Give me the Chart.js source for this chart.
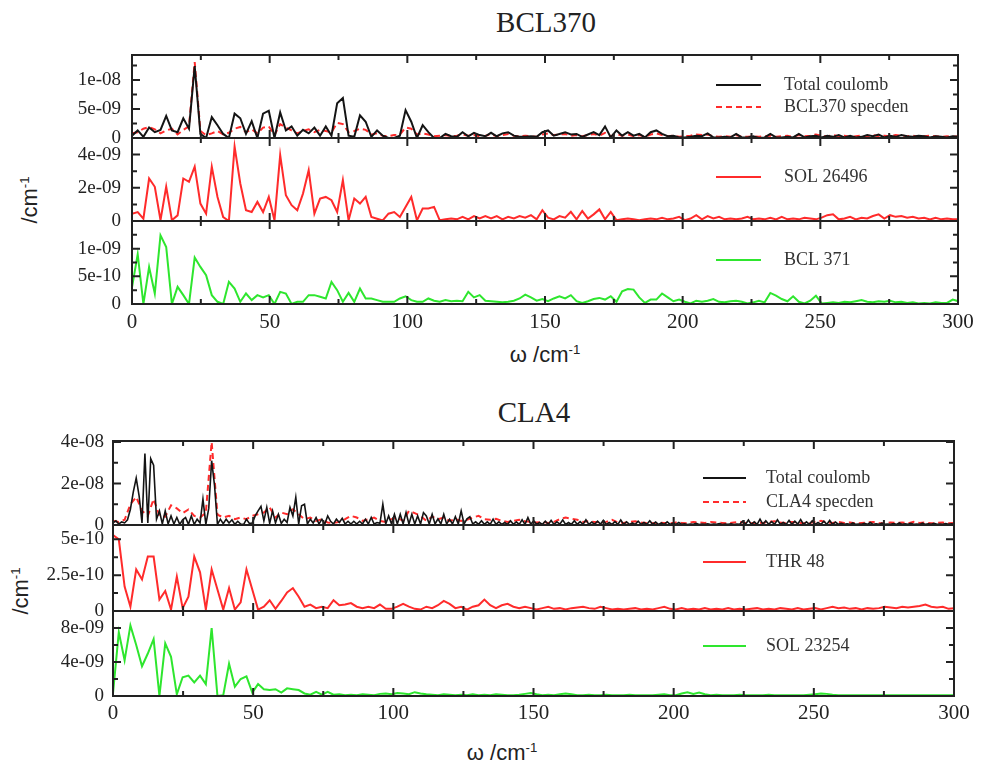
<!DOCTYPE html>
<html>
<head>
<meta charset="utf-8">
<script src="https://cdn.jsdelivr.net/npm/chart.js@4.4.1/dist/chart.umd.min.js"></script>
<style>
  body { margin: 0; background: #fff; }
  #page { position: relative; width: 982px; height: 767px; overflow: hidden; }
  canvas { position: absolute; left: 0; }
  .lbl { position: absolute; transform: translate(-50%, -50%); white-space: nowrap; color: #222; line-height: 1; }
  .title { font: 29px "Liberation Serif", serif; }
  .axis { font: 22px "Liberation Sans", sans-serif; }
  .axis sup { font-size: 60%; }
  .rot { transform: translate(-50%, -50%) rotate(-90deg); }
</style>
</head>
<body>
<div id="page">
  <div class="lbl title" style="left:546px;top:22px">BCL370</div>
  <div class="lbl axis" style="left:545px;top:355px">ω /cm<sup>-1</sup></div>
  <div class="lbl axis rot" style="left:30px;top:200px">/cm<sup>-1</sup></div>
  <div class="lbl title" style="left:534px;top:412px">CLA4</div>
  <div class="lbl axis" style="left:502px;top:753px">ω /cm<sup>-1</sup></div>
  <div class="lbl axis rot" style="left:21px;top:591px">/cm<sup>-1</sup></div>
</div>
<script>
// spectral density grid spacing in cm^-1
const dOmega = 2.07;
// the CLA4 total coulomb curve is sampled twice as densely
const dOmegaFine = 1.035;

const xMajor = [0, 50, 100, 150, 200, 250, 300];
const xMinor = [25, 75, 125, 175, 225, 275];

// ---- BCL370 ----
// top panel, units of 1e-9
const bcl370Total = [
  0.4, 1.3, 0.2, 1.8, 1.0, 1.4, 3.8, 1.3, 1.0, 3.4,
  1.6, 12.4, 0.7, 0.0, 3.6, 2.2, 0.7, 0.0, 4.2, 3.4,
  0.7, 2.9, 0.0, 4.2, 4.7, 0.0, 4.4, 1.3, 2.0, 0.4,
  1.4, 0.8, 1.8, 0.4, 2.0, 0.4, 6.0, 6.9, 0.4, 0.2,
  3.9, 2.8, 0.2, 1.3, 0.4, 0.0, 0.0, 0.4, 4.8, 2.8,
  0.0, 2.2, 1.0, 0.0, 0.0,
  0.7, 0.3, 0.2, 1.0, 0.3, 0.9, 0.5, 0.3, 0.9, 0.3,
  0.8, 1.0, 0.4, 0.2, 0.2, 0.3, 0.2, 1.0, 1.3, 0.4,
  0.7, 1.0, 0.6, 0.7, 0.2, 0.6, 1.0, 0.5, 2.0, 0.1,
  1.3, 0.4, 1.0, 0.4, 0.7, 0.1, 1.0, 1.3, 0.7, 0.3,
  0.4, 0.1, 0.1, 0.2, 0.4, 0.3, 0.8, 0.1, 0.1, 0.2,
  0.1, 0.7, 0.1, 0.1, 0.3, 0.0, 0.1, 0.7, 0.1, 0.1,
  0.2, 0.1, 0.7, 0.1, 0.3, 0.4, 0.1, 0.4, 0.2, 0.5,
  0.1, 0.4, 0.1, 0.2, 0.5, 0.3, 0.6, 0.1, 0.4, 0.2,
  0.5, 0.3, 0.2, 0.4, 0.3, 0.1, 0.3, 0.2, 0.1, 0.3,
  0.2
];
const bcl370Specden = [
  0.8, 1.0, 1.6, 1.9, 1.5, 0.8, 1.3, 1.6, 0.6, 1.4,
  2.0, 13.1, 1.2, 0.5, 0.8, 1.2, 0.6, 0.9, 1.6, 1.9,
  1.0, 1.5, 0.8, 1.8, 2.0, 0.5, 2.4, 1.8, 1.3, 0.8,
  1.2, 1.5, 1.0, 1.4, 1.2, 1.0, 2.6, 2.4, 1.0, 1.2,
  1.6, 1.4, 0.6, 0.8, 0.4, 0.3, 0.5, 0.6, 1.8, 1.6,
  0.6, 0.8, 0.6, 0.3, 0.4,
  0.5, 0.3, 0.4, 0.6, 0.4, 0.5, 0.3, 0.4, 0.6, 0.3,
  0.5, 0.7, 0.4, 0.3, 0.4, 0.3, 0.2, 0.6, 0.8, 0.5,
  0.6, 0.7, 0.4, 0.5, 0.3, 0.5, 0.7, 0.4, 0.9, 0.3,
  0.7, 0.4, 0.6, 0.3, 0.5, 0.2, 0.6, 0.8, 0.5, 0.3,
  0.4, 0.2, 0.3, 0.4, 0.6, 0.5, 0.6, 0.3, 0.2, 0.3,
  0.2, 0.5, 0.2, 0.2, 0.3, 0.2, 0.3, 0.4, 0.2, 0.3,
  0.4, 0.2, 0.5, 0.3, 0.4, 0.6, 0.4, 0.3, 0.5, 0.3,
  0.4, 0.2, 0.3, 0.4, 0.3, 0.5, 0.3, 0.4, 0.3, 0.5,
  0.4, 0.3, 0.4, 0.2, 0.3, 0.4, 0.3, 0.2, 0.3, 0.2,
  0.3
];
// middle panel, units of 1e-9
const sol26496 = [
  0.44, 0.54, 0.14, 2.56, 2.06, 0.05, 2.06, 0.05, 0.34, 2.56,
  2.36, 3.27, 1.05, 0.44, 3.27, 1.45, 0.24, 0.0, 4.48, 2.26,
  0.65, 0.54, 1.15, 0.54, 1.45, 0.04, 3.97, 1.55, 0.95, 0.65,
  1.65, 3.06, 0.44, 1.35, 1.45, 1.25, 0.54, 2.46, 0.04, 1.35,
  1.05, 1.45, 0.24, 0.14, 0.04, 0.44, 0.54, 0.24, 0.85, 1.45,
  0.04, 0.75, 0.75, 0.85, 0.04,
  0.1, 0.15, 0.1, 0.25, 0.1, 0.3, 0.15, 0.3,
  0.15, 0.3, 0.1, 0.25, 0.15, 0.3, 0.2, 0.35, 0.1,
  0.65, 0.2, 0.1, 0.3, 0.2, 0.55, 0.1, 0.6, 0.15, 0.4, 0.7, 0.1, 0.55, 0.05,
  0.1, 0.15, 0.1, 0.05, 0.1, 0.15, 0.1, 0.2, 0.1, 0.15, 0.25, 0.05,
  0.15, 0.35, 0.1, 0.3, 0.15, 0.25, 0.1, 0.15, 0.1, 0.15, 0.25, 0.1, 0.15,
  0.1, 0.2, 0.1, 0.25, 0.1, 0.15, 0.1, 0.2, 0.15, 0.1,
  0.2, 0.35, 0.4, 0.1, 0.15, 0.25, 0.1, 0.2, 0.15, 0.3,
  0.4, 0.15, 0.35, 0.25, 0.3, 0.2, 0.25, 0.15, 0.2, 0.1,
  0.2, 0.1, 0.15, 0.1, 0.1
];
// bottom panel, units of 1e-10
const bcl371 = [
  3.0, 9.0, 0.0, 6.7, 1.9, 12.4, 10.3, 0.0, 3.1, 1.6,
  0.0, 8.4, 6.7, 5.2, 1.6, 0.4, 0.0, 4.0, 2.8, 0.4,
  1.9, 0.7, 1.6, 1.2, 1.6, 0.0, 2.2, 1.9, 0.0, 0.4,
  0.4, 1.6, 1.6, 1.3, 1.0, 4.0, 2.5, 0.4, 2.0, 0.4,
  2.8, 1.0, 1.0, 0.7, 0.4, 0.4, 0.4, 1.0, 1.4, 0.7,
  0.4, 0.4, 1.0, 0.6, 0.4,
  0.7, 0.5, 0.6, 0.5,
  2.2, 1.2, 1.6, 0.6, 0.5, 0.4, 0.3, 0.4, 0.6, 1.0,
  1.7, 1.2, 0.6, 0.9, 0.5, 1.0, 1.4, 1.0, 1.6, 0.5,
  0.2, 0.5, 0.9, 1.1, 0.8, 1.4, 0.4, 2.3, 2.7, 2.6,
  1.2, 0.2, 0.8, 0.8, 1.9, 1.2, 0.5, 0.8, 0.4, 0.1,
  0.6, 0.4, 0.6, 0.9, 0.4, 0.3, 0.5, 0.6, 0.4, 0.1,
  0.3, 0.6, 0.3, 2.0, 1.5, 0.9, 0.5, 1.4, 0.4, 0.1,
  0.6, 1.5, 0.1, 0.2, 0.3, 0.2, 0.4, 0.3, 0.5, 0.7,
  0.4, 0.3, 0.5, 0.4, 0.6, 0.3, 0.4, 0.2, 0.3, 0.1,
  0.2, 0.1, 0.3, 0.2, 0.2, 0.8, 0.5
];

// ---- CLA4 ----
// top panel, units of 1e-9 (total coulomb on the fine grid)
const cla4Total = [
  1.0, 2.0, 0.5, 1.5, 1.0, 2.5, 7.6, 16, 22.6, 14,
  1.0, 34.5, 1.0, 32, 28.8, 2.8, 6.8, 0.5, 6.8, 0.5,
  4.4, 0.5, 3.6, 0.3, 2.5, 3.6, 0.3, 4.4, 0.3, 2.8,
  1.0, 12.5, 0.3, 8, 31, 19, 0.3, 2.8, 0.6, 2.8,
  1.0, 2.5, 0.3, 1.8, 0.5, 0.2, 2.8, 0.8, 1.0, 4.4,
  6.8, 9.0, 2.0, 8.5, 0.8, 6.8, 1.0, 5.2, 0.8, 2.8,
  1.2, 8.5, 4.4, 13.3, 0.5, 9.3, 10, 0.5, 2.8, 1.0,
  3.6, 0.5, 2.8, 0.5, 4.4, 1.8, 0.5, 2.8, 1.2, 3.2,
  0.5, 1.8, 0.5, 1.8, 0.5, 1.8, 0.5, 2.8, 0.5, 3.6,
  0.5, 1.2, 0.8, 10, 0.5, 4.4, 0.5, 5.2, 0.5, 5.2,
  0.5, 6.0, 0.5, 5.2, 0.5, 4.4, 0.5, 6.0,
  4.4, 0.5, 5.2, 0.5, 3.0, 0.5, 5.2, 0.5, 2.8, 0.5, 4.0, 0.5, 6.8, 0.5, 3.0, 4.0, 0.5,
  1.5, 0.3, 2.0, 0.3, 1.5, 0.3, 2.8, 0.3, 1.5, 0.3, 1.2, 0.3,
  2.0, 0.3, 1.5, 0.3, 2.5, 0.3, 3.6, 0.3, 2.0, 0.3, 1.2, 0.3,
  1.8, 0.3, 2.2, 0.3, 1.5, 0.4, 2.4, 0.3, 1.2, 0.3,
  2.0, 0.3, 1.6, 0.3, 2.5, 0.3, 1.4, 0.3, 1.8, 0.4,
  2.2, 0.3, 1.2, 0.3, 1.6, 0.3, 2.4, 0.3, 1.5, 0.3,
  1.0, 0.3, 1.8, 0.3, 1.2, 0.3, 2.0, 0.3, 1.4, 0.3,
  1.0, 0.3, 1.5, 0.3, 0.8, 0.3, 1.2,
  0.3, 0.6, 0.2, 0.5, 0.3, 0.8, 0.2, 0.4, 0.3, 0.6,
  0.2, 0.5, 0.3, 0.7, 0.2, 0.4, 0.3, 0.6, 0.2, 0.5, 0.3,
  1.8, 0.3, 2.4, 0.3, 1.5, 0.3, 2.8, 0.3, 2.0, 0.4,
  1.6, 0.3, 2.5, 0.3, 1.2, 0.3, 2.2, 0.3, 1.8, 0.4,
  2.6, 0.3, 1.5, 0.3, 2.0, 0.3, 1.2, 0.3, 1.8, 0.3,
  2.2, 0.3, 1.4, 0.3,
  0.8, 0.3, 0.6, 0.3, 1.0, 0.3, 0.5, 0.3, 0.8, 0.3,
  1.2, 0.3, 0.6, 0.3, 0.9, 0.3, 0.5, 0.3, 0.7, 0.3,
  1.0, 0.3, 0.6, 0.3, 0.8, 0.3, 0.5, 0.3, 0.9, 0.3,
  0.6, 0.3, 0.8, 0.3, 0.5, 0.3, 0.7, 0.3, 0.6, 0.3
];
const cla4Specden = [
  2.0, 1.5, 2.5, 10, 13.5, 6.8, 4.4, 12.5, 4.4, 4.0,
  9.5, 8.0, 5.7, 7.5, 4.4, 3.6, 6.0, 40, 5.0, 3.6,
  4.4, 2.8, 3.6, 2.8, 4.4, 5.2, 6.0, 8.5, 3.6, 6.0,
  5.2, 7.6, 5.2, 2.8, 3.6, 2.0, 2.8, 1.2, 1.0, 1.5,
  2.8, 4.4, 3.6, 2.0, 2.8, 3.6, 2.0, 1.5, 2.8, 3.6,
  2.0, 6.8, 5.7, 4.4, 2.0,
  4.0, 2.8, 3.6, 2.0, 2.8, 2.0, 2.5, 3.6, 4.4, 2.8,
  2.5, 3.0, 2.0, 1.5, 2.0, 2.5, 1.8, 1.5, 1.2, 1.5,
  1.0, 1.5, 2.8, 3.6, 3.0, 2.5, 1.5, 1.8, 1.5, 1.2,
  1.5, 2.5, 1.2, 1.0, 1.5, 1.8, 1.2, 1.0, 0.8, 1.2,
  1.0, 0.8, 1.2, 1.0, 0.8, 1.5, 1.2, 1.0, 1.5, 1.2,
  1.0, 0.8, 1.2, 1.5, 1.0, 0.8, 1.2, 1.0, 1.5, 1.8,
  1.2, 1.0, 1.5, 1.2, 0.8, 1.0, 1.5, 2.0, 1.2, 1.0,
  1.5, 1.0, 1.2, 0.8, 1.0, 1.2, 1.5, 1.0, 0.8, 1.2,
  1.0, 1.2, 0.8, 1.5, 1.0, 1.2, 0.8, 1.0, 1.2, 0.8,
  1.0
];
// middle panel, units of 1e-10
const thr48 = [
  5.3, 5.0, 1.7, 0.3, 2.9, 2.2, 3.8, 3.8, 0.8, 1.4,
  0.1, 2.4, 0.2, 1.0, 3.8, 2.7, 0.1, 2.9, 1.5, 0.1,
  1.6, 0.1, 0.6, 2.9, 1.5, 0.1, 0.3, 0.75, 0.15, 0.7,
  1.3, 1.6, 1.0, 0.3, 0.45, 0.2, 0.3, 0.2, 0.75, 0.4,
  0.45, 0.55, 0.3, 0.2, 0.3, 0.2, 0.45, 0.15, 0.15, 0.3,
  0.5, 0.3, 0.15, 0.1,
  0.3, 0.2, 0.4, 0.7, 0.5, 0.2, 0.3, 0.1, 0.3, 0.4,
  0.8, 0.4, 0.2, 0.4, 0.5, 0.3, 0.2, 0.3, 0.2, 0.1,
  0.2, 0.3, 0.15, 0.2, 0.1, 0.2, 0.25, 0.3, 0.2, 0.15,
  0.3, 0.2, 0.1, 0.15, 0.1, 0.15, 0.2, 0.1, 0.15, 0.1,
  0.2, 0.3, 0.15, 0.1, 0.2, 0.1, 0.15, 0.1, 0.2, 0.1,
  0.15, 0.1, 0.2, 0.1, 0.15, 0.1, 0.15, 0.2, 0.1, 0.15,
  0.1, 0.2, 0.15, 0.1, 0.2, 0.1, 0.15, 0.2, 0.1, 0.2,
  0.3, 0.2, 0.25, 0.15, 0.2, 0.1, 0.2, 0.15, 0.2, 0.3,
  0.25, 0.2, 0.3, 0.25, 0.3, 0.35, 0.45, 0.3, 0.25, 0.3,
  0.15, 0.2
];
// bottom panel, units of 1e-9
const sol23254 = [
  0.3, 7.5, 4.2, 8.3, 6.0, 3.5, 5.0, 6.7, 0.0, 6.2,
  4.6, 0.2, 2.2, 2.4, 1.6, 2.4, 1.4, 8.0, 0.0, 0.1,
  3.8, 1.1, 2.0, 2.3, 0.4, 1.4, 0.8, 0.7, 0.8, 0.4,
  0.9, 0.8, 0.7, 0.3, 0.15, 0.5, 0.15, 0.5, 0.15, 0.2,
  0.1, 0.15, 0.1, 0.2, 0.15, 0.1, 0.25, 0.3, 0.2, 0.35,
  0.3, 0.2, 0.45, 0.3, 0.2, 0.15, 0.1, 0.2, 0.15, 0.1,
  0.15, 0.1, 0.2, 0.1, 0.15, 0.1, 0.2, 0.15, 0.1, 0.1,
  0.15, 0.25, 0.35, 0.2, 0.1, 0.15, 0.1, 0.2, 0.3, 0.2,
  0.1, 0.1, 0.15, 0.1, 0.1, 0.15, 0.1, 0.1, 0.1, 0.15,
  0.1, 0.1, 0.1, 0.1, 0.15, 0.2, 0.1, 0.1, 0.3, 0.45,
  0.25, 0.4, 0.2, 0.1, 0.15, 0.1, 0.1, 0.1, 0.15, 0.1,
  0.1, 0.1, 0.1, 0.15, 0.1, 0.1, 0.1, 0.1, 0.1, 0.1,
  0.15, 0.2, 0.3, 0.25, 0.15, 0.1, 0.1, 0.1, 0.1, 0.1,
  0.1, 0.1, 0.1, 0.1, 0.1, 0.1, 0.1, 0.1, 0.1, 0.1,
  0.1, 0.1, 0.1, 0.1, 0.1, 0.1
];

const BLACK = '#141414';
const RED = '#ff2b2b';
const GREEN = '#2ee62e';
const INK = '#222';

function toPoints(values, step, unit) {
  return values.map((v, i) => ({ x: i * step, y: v * unit }));
}

// 5e-9 -> "5e-09", like the original plotting program
function expLabel(v) {
  if (v === 0) return '0';
  return v.toExponential().replace(/e([+-])(\d+)$/, (m, s, d) => 'e' + s + d.padStart(2, '0'));
}

// frame, inward ticks on all four sides, legend inside the panel
const panelFrame = {
  id: 'panelFrame',
  afterDraw(chart, args, opts) {
    const { ctx, chartArea: a } = chart;
    const x = chart.scales.x, y = chart.scales.y;
    ctx.save();
    ctx.strokeStyle = INK;
    ctx.lineWidth = 2;
    ctx.setLineDash([]);
    ctx.beginPath();
    const tick = (px, py, dx, dy) => { ctx.moveTo(px, py); ctx.lineTo(px + dx, py + dy); };
    xMajor.forEach(v => { const px = x.getPixelForValue(v); tick(px, a.top, 0, 8); tick(px, a.bottom, 0, -8); });
    xMinor.forEach(v => { const px = x.getPixelForValue(v); tick(px, a.top, 0, 5); tick(px, a.bottom, 0, -5); });
    opts.yMajor.forEach(v => { const py = y.getPixelForValue(v); tick(a.left, py, 8, 0); tick(a.right, py, -8, 0); });
    opts.yMinor.forEach(v => { const py = y.getPixelForValue(v); tick(a.left, py, 5, 0); tick(a.right, py, -5, 0); });
    ctx.stroke();
    ctx.strokeRect(a.left, a.top, a.right - a.left, a.bottom - a.top);

    const lg = opts.legend;
    ctx.font = '18px "Liberation Serif"';
    ctx.textBaseline = 'middle';
    ctx.fillStyle = '#333';
    chart.data.datasets.forEach((ds, k) => {
      const ly = a.top + lg.rows[k];
      ctx.strokeStyle = ds.borderColor;
      ctx.lineWidth = 2;
      ctx.setLineDash(ds.borderDash || []);
      ctx.beginPath();
      ctx.moveTo(a.right - lg.x1, ly);
      ctx.lineTo(a.right - lg.x2, ly);
      ctx.stroke();
      ctx.fillText(ds.label, a.right - lg.xt, ly);
    });
    ctx.restore();
  }
};

// PAD must exceed half a tick label plus the tick padding, or Chart.js shrinks the plot area
const W = 982, YW = 100, XH = 36, PAD = 28;

function makePanel(p) {
  const showX = !!p.showX;
  const cv = document.createElement('canvas');
  const h = p.bottom - p.top + PAD + (showX ? XH + 4 : PAD);
  cv.width = W;
  cv.height = h;
  cv.style.width = W + 'px';
  cv.style.height = h + 'px';
  cv.style.top = (p.top - PAD) + 'px';
  document.getElementById('page').appendChild(cv);

  new Chart(cv.getContext('2d'), {
    type: 'line',
    data: {
      datasets: p.series.map(s => ({
        label: s.label,
        data: toPoints(s.values, s.step, p.unit),
        borderColor: s.color,
        borderWidth: s.width || 2,
        borderDash: s.dash || [],
        pointRadius: 0,
        tension: 0,
        fill: false
      }))
    },
    options: {
      responsive: false,
      animation: false,
      devicePixelRatio: 1,
      layout: { padding: { left: p.left - YW, right: W - p.right, top: PAD, bottom: showX ? 4 : PAD } },
      plugins: {
        legend: { display: false },
        tooltip: { enabled: false },
        panelFrame: { yMajor: p.yMajor, yMinor: p.yMinor, legend: p.legend }
      },
      scales: {
        x: {
          type: 'linear', min: 0, max: 300, display: showX,
          afterBuildTicks: s => { s.ticks = xMajor.map(v => ({ value: v })); },
          afterFit: s => { if (showX) s.height = XH; },
          grid: { display: false, drawTicks: false },
          border: { display: false },
          ticks: {
            padding: p.xPad, autoSkip: false, maxRotation: 0, color: INK,
            font: { family: 'Liberation Serif', size: 21 },
            callback: v => String(v)
          }
        },
        y: {
          type: 'linear', min: 0, max: p.yMax,
          afterBuildTicks: s => { s.ticks = p.yMajor.map(v => ({ value: v })); },
          afterFit: s => { s.width = YW; },
          grid: { display: false, drawTicks: false },
          border: { display: false },
          ticks: {
            padding: p.yPad, autoSkip: false, color: INK,
            font: { family: 'Liberation Serif', size: 19 },
            callback: v => expLabel(v)
          }
        }
      }
    },
    plugins: [panelFrame]
  });
}

const legendBCL = { x1: 242, x2: 197, xt: 174 };
const legendCLA = { x1: 251, x2: 208, xt: 188 };

// BCL370 figure
makePanel({
  left: 132, right: 958, top: 55, bottom: 138, yPad: 11, xPad: 6,
  unit: 1e-9, yMax: 1.43e-8, yMajor: [0, 5e-9, 1e-8], yMinor: [2.5e-9, 7.5e-9, 1.25e-8],
  legend: { ...legendBCL, rows: [30, 52] },
  series: [
    { label: 'Total coulomb', values: bcl370Total, step: dOmega, color: BLACK },
    { label: 'BCL370 specden', values: bcl370Specden, step: dOmega, color: RED, dash: [6, 4] }
  ]
});
makePanel({
  left: 132, right: 958, top: 138, bottom: 221, yPad: 11, xPad: 6,
  unit: 1e-9, yMax: 5e-9, yMajor: [0, 2e-9, 4e-9], yMinor: [1e-9, 3e-9],
  legend: { ...legendBCL, rows: [39] },
  series: [{ label: 'SOL 26496', values: sol26496, step: dOmega, color: RED }]
});
makePanel({
  left: 132, right: 958, top: 221, bottom: 304, yPad: 11, xPad: 6, showX: true,
  unit: 1e-10, yMax: 1.5e-9, yMajor: [0, 5e-10, 1e-9], yMinor: [2.5e-10, 7.5e-10, 1.25e-9],
  legend: { ...legendBCL, rows: [39] },
  series: [{ label: 'BCL 371', values: bcl371, step: dOmega, color: GREEN }]
});

// CLA4 figure
makePanel({
  left: 113, right: 954, top: 441, bottom: 525, yPad: 9, xPad: 5,
  unit: 1e-9, yMax: 4.05e-8, yMajor: [0, 2e-8, 4e-8], yMinor: [1e-8, 3e-8],
  legend: { ...legendCLA, rows: [37, 61] },
  series: [
    { label: 'Total coulomb', values: cla4Total, step: dOmegaFine, color: BLACK, width: 1.6 },
    { label: 'CLA4 specden', values: cla4Specden, step: dOmega, color: RED, dash: [6, 4] }
  ]
});
makePanel({
  left: 113, right: 954, top: 525, bottom: 611, yPad: 9, xPad: 5,
  unit: 1e-10, yMax: 6e-10, yMajor: [0, 2.5e-10, 5e-10], yMinor: [1.25e-10, 3.75e-10],
  legend: { ...legendCLA, rows: [37] },
  series: [{ label: 'THR 48', values: thr48, step: dOmega, color: RED }]
});
makePanel({
  left: 113, right: 954, top: 611, bottom: 696, yPad: 9, xPad: 5, showX: true,
  unit: 1e-9, yMax: 1e-8, yMajor: [0, 4e-9, 8e-9], yMinor: [2e-9, 6e-9],
  legend: { ...legendCLA, rows: [35] },
  series: [{ label: 'SOL 23254', values: sol23254, step: dOmega, color: GREEN }]
});
</script>
</body>
</html>
